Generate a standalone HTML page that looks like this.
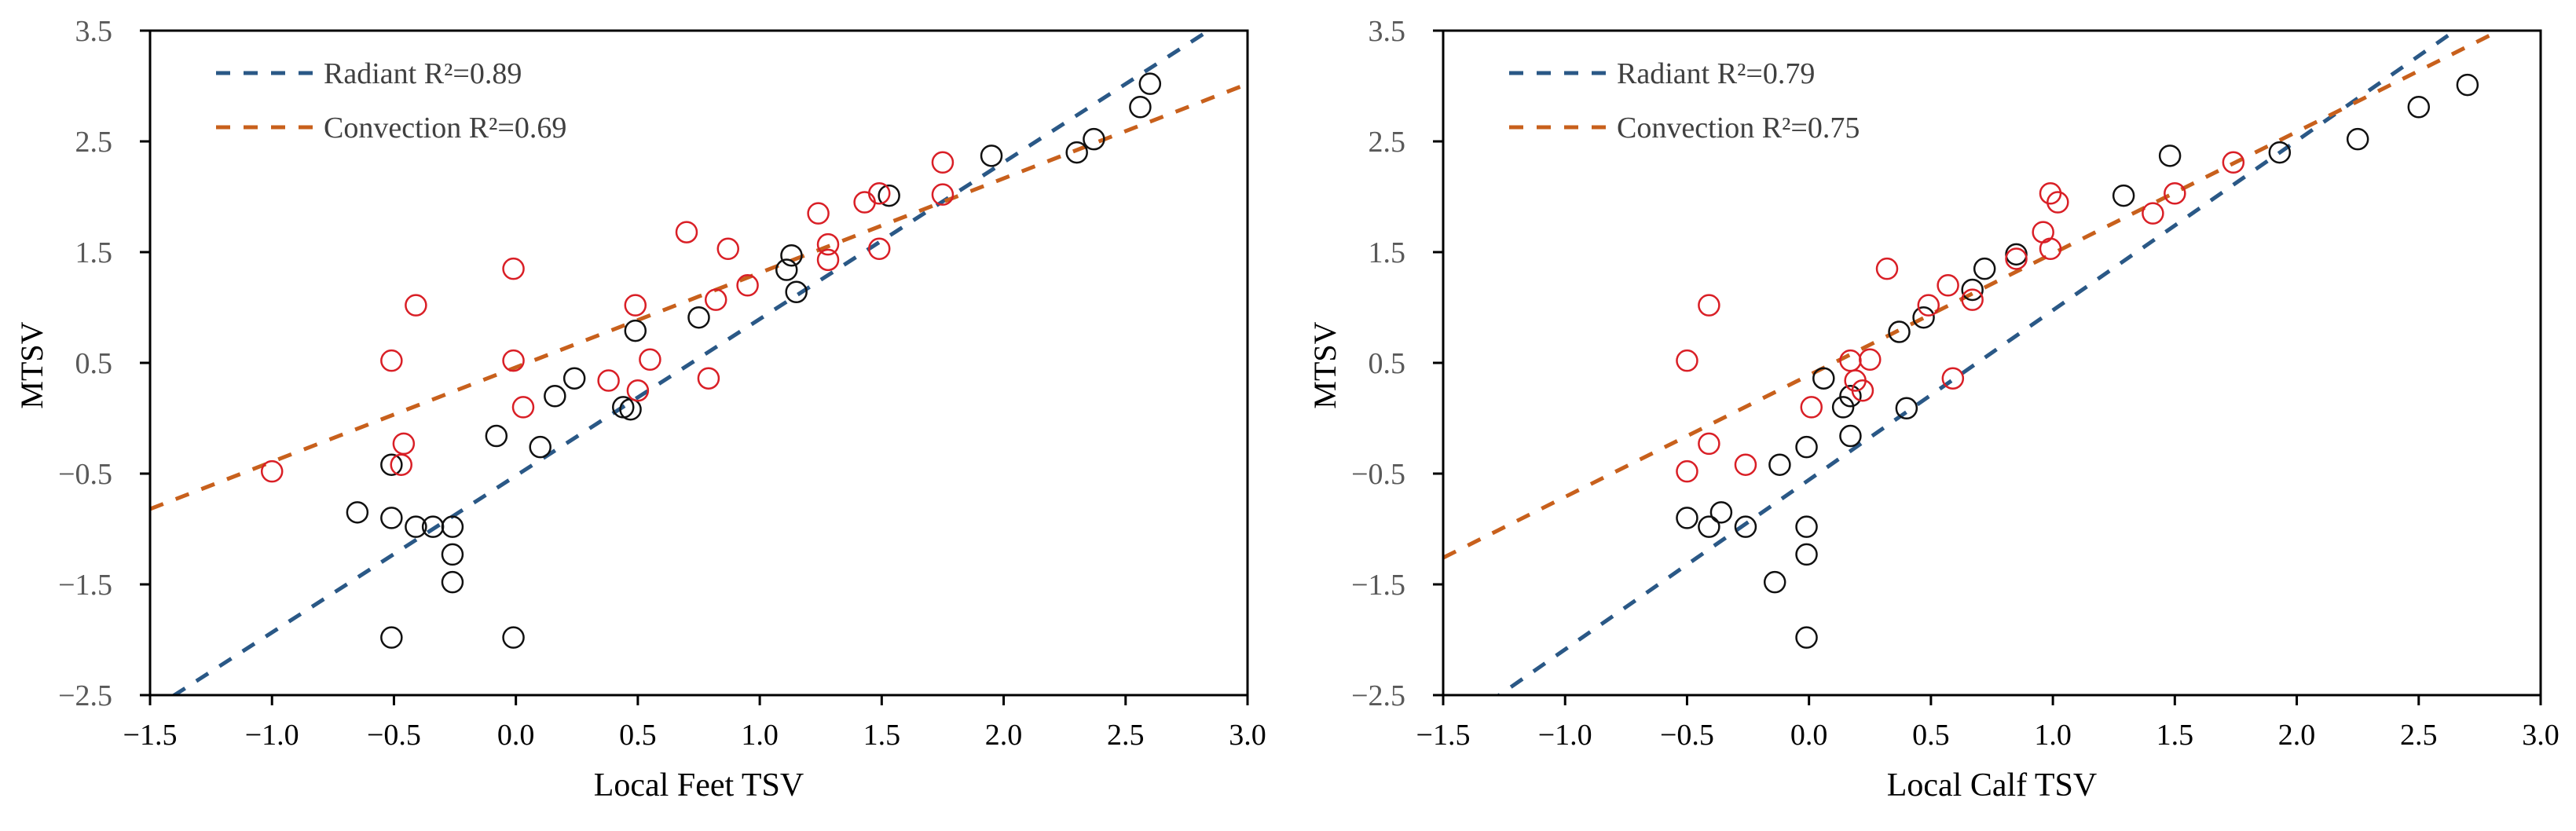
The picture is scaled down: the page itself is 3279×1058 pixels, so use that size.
<!DOCTYPE html>
<html><head><meta charset="utf-8"><style>
html,body{margin:0;padding:0;background:#fff}
svg{display:block}
text{font-family:"Liberation Serif",serif}
</style></head><body>
<svg id="chart" width="3279" height="1058" xmlns="http://www.w3.org/2000/svg"></svg>
<script>
const xTicks = [-1.5,-1.0,-0.5,0.0,0.5,1.0,1.5,2.0,2.5,3.0];
const xTickLabels = ["\u22121.5","\u22121.0","\u22120.5","0.0","0.5","1.0","1.5","2.0","2.5","3.0"];
const yTicks = [3.5,2.5,1.5,0.5,-0.5,-1.5,-2.5];
const yTickLabels = ["3.5","2.5","1.5","0.5","\u22120.5","\u22121.5","\u22122.5"];

const feetRadiantX = [2.6,2.56,2.37,2.30,1.95,1.53,1.13,1.11,1.15,0.75,0.49,0.24,0.16,0.44,0.47,-0.08,0.10,-0.51,-0.65,-0.51,-0.41,-0.34,-0.26,-0.26,-0.26,-0.51,-0.01];
const feetRadiantY = [3.02,2.81,2.52,2.40,2.37,2.01,1.47,1.34,1.14,0.91,0.79,0.36,0.20,0.10,0.08,-0.16,-0.26,-0.42,-0.85,-0.90,-0.98,-0.98,-0.98,-1.23,-1.48,-1.98,-1.98];
const feetConvX = [-1.0,-0.51,-0.41,-0.46,-0.47,-0.01,-0.01,0.03,0.38,0.49,0.50,0.55,0.70,0.79,0.82,0.87,0.95,1.24,1.28,1.28,1.43,1.49,1.49,1.75,1.75];
const feetConvY = [-0.48,0.52,1.02,-0.23,-0.42,1.35,0.52,0.10,0.34,1.02,0.25,0.53,1.68,0.36,1.07,1.53,1.20,1.85,1.57,1.43,1.95,2.03,1.53,2.31,2.02];
const calfRadiantX = [2.70,2.50,2.25,1.93,1.48,1.29,0.85,0.72,0.67,0.47,0.37,0.06,0.17,0.14,0.40,0.17,-0.01,-0.12,-0.50,-0.41,-0.36,-0.26,-0.01,-0.01,-0.14,-0.01];
const calfRadiantY = [3.01,2.81,2.52,2.40,2.37,2.01,1.48,1.35,1.16,0.91,0.78,0.36,0.20,0.10,0.09,-0.16,-0.26,-0.42,-0.90,-0.98,-0.85,-0.98,-0.98,-1.23,-1.48,-1.98];
const calfConvX = [-0.50,-0.50,-0.41,-0.41,-0.26,0.01,0.17,0.19,0.22,0.25,0.32,0.49,0.57,0.67,0.59,0.85,0.96,0.99,1.02,0.99,1.41,1.50,1.74];
const calfConvY = [0.52,-0.48,1.02,-0.23,-0.42,0.10,0.52,0.34,0.25,0.53,1.35,1.02,1.20,1.07,0.36,1.44,1.68,2.03,1.95,1.53,1.85,2.03,2.31];
const feetFit = [1.415,-0.519, 0.853,0.46];
const calfFit = [1.531,-0.556, 1.099,0.389];

const NS="http://www.w3.org/2000/svg";
const svg=document.getElementById('chart');
function mk(tag,attrs,parent){const e=document.createElementNS(NS,tag);for(const k in attrs)e.setAttribute(k,attrs[k]);(parent||svg).appendChild(e);return e;}

function panel(p){
  const L=p.left,R=p.right,T=39,B=885;
  const sx=v=>L+(v+1.5)/4.5*(R-L);
  const sy=v=>T+(3.5-v)/6*(B-T);
  const g=mk('g',{});
  
  
  const clipId='clip'+p.name;
  const cp=mk('clipPath',{id:clipId},g);mk('rect',{x:L,y:T,width:R-L,height:B-T},cp);
  // lines
  const lines=[[p.fit[0],p.fit[1],'#2a5886','radiant-trendline'],[p.fit[2],p.fit[3],'#c8601c','convection-trendline']];
  lines.forEach(l=>{
    const ln=mk('line',{x1:sx(-1.5),y1:sy(l[0]*-1.5+l[1]),x2:sx(3.0),y2:sy(l[0]*3.0+l[1]),stroke:l[2],'stroke-width':5,'stroke-dasharray':'18 17','clip-path':'url(#'+clipId+')'},g);
    
    
  });
  // points
  p.rx.forEach((x,i)=>{const c=mk('ellipse',{cx:sx(x),cy:sy(p.ry[i]),rx:13,ry:13,fill:'none',stroke:'#111','stroke-width':2.5},g);
    
    });
  p.cx.forEach((x,i)=>{const c=mk('ellipse',{cx:sx(x),cy:sy(p.cy[i]),rx:13,ry:13,fill:'none',stroke:'#d91f26','stroke-width':2.5},g);
    
    });
  // frame
  const fr=mk('rect',{x:L,y:T,width:R-L,height:B-T,fill:'none',stroke:'#000','stroke-width':3},g);
  
  
  xTicks.forEach((v,i)=>{
    mk('line',{x1:sx(v),y1:B,x2:sx(v),y2:B+13,stroke:'#000','stroke-width':3},g);
    const t=mk('text',{x:sx(v),y:948,'font-size':38,'text-anchor':'middle',fill:'#000'},g);t.textContent=xTickLabels[i];
    
    
  });
  yTicks.forEach((v,i)=>{
    mk('line',{x1:L-13,y1:sy(v),x2:L,y2:sy(v),stroke:'#000','stroke-width':3},g);
    const t=mk('text',{x:L-48,y:sy(v)+13,'font-size':38,'text-anchor':'end',fill:'#595959'},g);t.textContent=yTickLabels[i];
    
    
  });
  const yt=mk('text',{x:0,y:0,'font-size':40,'text-anchor':'middle',fill:'#000',transform:'translate('+(L-137)+',465) rotate(-90)'},g);
  yt.textContent='MTSV';
  
  
  const xt=mk('text',{x:(L+R)/2+0,y:1013,'font-size':42,'text-anchor':'middle',fill:'#000'},g);
  xt.textContent=p.xtitle;
  
  
  // legend
  const lg=[[p.leg[0],'#2a5886',93],[p.leg[1],'#c8601c',162]];
  lg.forEach(e=>{
    const eg=mk('g',{},g);
    
    
    mk('line',{x1:L+84,y1:e[2],x2:L+209,y2:e[2],stroke:e[1],'stroke-width':5,'stroke-dasharray':'18 17'},eg);
    const t=mk('text',{x:L+221,y:e[2]+13,'font-size':38,fill:'#404040'},eg);
    t.innerHTML=e[0];
  });
}
panel({name:'feet-panel',left:191,right:1588,rx:feetRadiantX,ry:feetRadiantY,cx:feetConvX,cy:feetConvY,fit:feetFit,xtitle:'Local Feet TSV',leg:['Radiant R\u00b2=0.89','Convection R\u00b2=0.69']});
panel({name:'calf-panel',left:1837,right:3234,rx:calfRadiantX,ry:calfRadiantY,cx:calfConvX,cy:calfConvY,fit:calfFit,xtitle:'Local Calf TSV',leg:['Radiant R\u00b2=0.79','Convection R\u00b2=0.75']});
</script>
</body></html>
